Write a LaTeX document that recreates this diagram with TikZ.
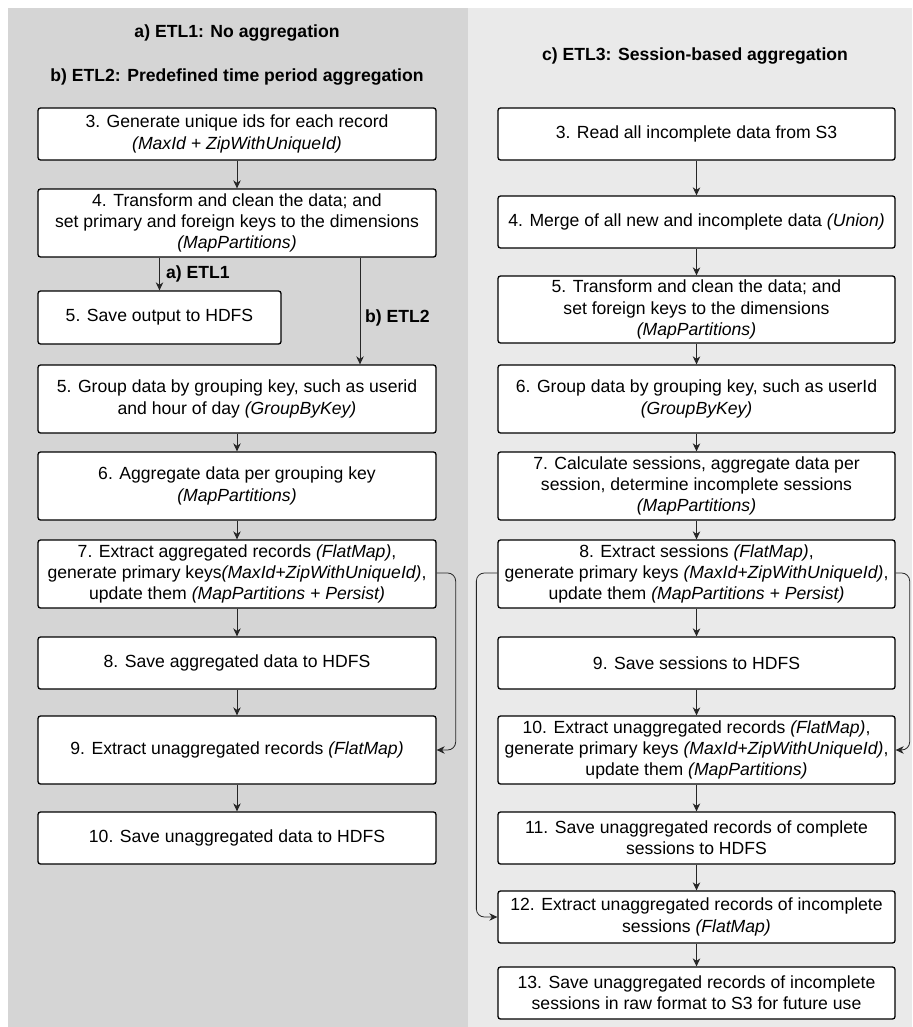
\documentclass[tikz,border=0pt]{standalone}
\usepackage{fontspec}
\setmainfont{Liberation Sans}
\usetikzlibrary{arrows.meta}
\definecolor{leftbg}{HTML}{D5D5D5}
\definecolor{rightbg}{HTML}{EAEAEA}
\begin{document}
\begin{tikzpicture}[x=1pt,y=-1pt,
  every node/.style={font=\fontsize{17.6}{21.2}\selectfont},
  stepbox/.style={draw=black, fill=white, line width=1.3pt, rounded corners=2.5pt,
    align=center, inner sep=0pt, minimum width=398, minimum height=52},
  rstepbox/.style={stepbox, minimum width=397},
  arr/.style={draw=black!85, line width=0.8pt, -{Stealth[length=8pt,width=7.5pt,inset=2.5pt]}},
  heading/.style={font=\fontsize{17.6}{21.2}\selectfont\bfseries},
  lbl/.style={font=\fontsize{17.6}{21.2}\selectfont\bfseries, anchor=west, inner sep=0pt}
]
\useasboundingbox (0,0) rectangle (912,1027);
\fill[leftbg] (8,8) rectangle (468,1027);
\fill[rightbg] (468,8) rectangle (912,1027);

% headings
\node[heading] (ha) at (237,33) {a) ETL1: No aggregation};
\node[heading] (hb) at (237,77) {b) ETL2: Predefined time period aggregation};
\node[heading] (hc) at (695,56) {c) ETL3: Session-based aggregation};

% left column
\node[stepbox] (l3) at (237,134) {3. Generate unique ids for each record\\ \textit{(MaxId + ZipWithUniqueId)}};
\node[stepbox, minimum height=68] (l4) at (237,223) {4. Transform and clean the data; and\\ set primary and foreign keys to the dimensions\\ \textit{(MapPartitions)}};
\node[stepbox, minimum width=243, minimum height=53] (l5a) at (159.5,317.5) {5. Save output to HDFS};
\node[stepbox, minimum height=68] (l5b) at (237,399) {5. Group data by grouping key, such as userid\\ and hour of day \textit{(GroupByKey)}};
\node[stepbox, minimum height=68] (l6) at (237,486) {6. Aggregate data per grouping key\\ \textit{(MapPartitions)}};
\node[stepbox, minimum height=68] (l7) at (237,574) {7. Extract aggregated records \textit{(FlatMap)},\\ generate primary keys\textit{(MaxId+ZipWithUniqueId)},\\ update them \textit{(MapPartitions + Persist)}};
\node[stepbox] (l8) at (237,663) {8. Save aggregated data to HDFS};
\node[stepbox, minimum height=68] (l9) at (237,750) {9. Extract unaggregated records \textit{(FlatMap)}};
\node[stepbox] (l10) at (237,838) {10. Save unaggregated data to HDFS};

% right column
\node[rstepbox] (r3) at (696.5,134) {3. Read all incomplete data from S3};
\node[rstepbox] (r4) at (696.5,222) {4. Merge of all new and incomplete data \textit{(Union)}};
\node[rstepbox, minimum height=67] (r5) at (696.5,309.5) {5. Transform and clean the data; and\\ set foreign keys to the dimensions\\ \textit{(MapPartitions)}};
\node[rstepbox, minimum height=68] (r6) at (696.5,399) {6. Group data by grouping key, such as userId\\ \textit{(GroupByKey)}};
\node[rstepbox, minimum height=68] (r7) at (696.5,486) {7. Calculate sessions, aggregate data per\\ session, determine incomplete sessions\\ \textit{(MapPartitions)}};
\node[rstepbox, minimum height=68] (r8) at (696.5,574) {8. Extract sessions \textit{(FlatMap)},\\ generate primary keys \textit{(MaxId+ZipWithUniqueId)},\\ update them \textit{(MapPartitions + Persist)}};
\node[rstepbox] (r9) at (696.5,663) {9. Save sessions to HDFS};
\node[rstepbox, minimum height=68] (r10) at (696.5,750) {10. Extract unaggregated records \textit{(FlatMap)},\\ generate primary keys \textit{(MaxId+ZipWithUniqueId)},\\ update them \textit{(MapPartitions)}};
\node[rstepbox] (r11) at (696.5,838) {11. Save unaggregated records of complete\\ sessions to HDFS};
\node[rstepbox] (r12) at (696.5,917) {12. Extract unaggregated records of incomplete\\ sessions \textit{(FlatMap)}};
\node[rstepbox] (r13) at (696.5,993) {13. Save unaggregated records of incomplete\\ sessions in raw format to S3 for future use};

% left connectors
\draw[arr] (l3) -- (l4);
\draw[arr] (l4.south -| l5a.north) -- (l5a.north);
\draw[arr] ([xshift=123]l4.south) -- ([xshift=123]l5b.north);
\node[lbl] (la) at (166,274) {a) ETL1};
\node[lbl] (lb) at (365,318) {b) ETL2};
\draw[arr] (l5b) -- (l6);
\draw[arr] (l6) -- (l7);
\draw[arr] (l7) -- (l8);
\draw[arr] (l8) -- (l9);
\draw[arr] (l9) -- (l10);
\draw[arr, rounded corners=8pt] ([yshift=1]l7.east) -- ++(19,0) |- (l9.east);

% right connectors
\draw[arr] (r3) -- (r4);
\draw[arr] (r4) -- (r5);
\draw[arr] (r5) -- (r6);
\draw[arr] (r6) -- (r7);
\draw[arr] (r7) -- (r8);
\draw[arr] (r8) -- (r9);
\draw[arr] (r9) -- (r10);
\draw[arr] (r10) -- (r11);
\draw[arr] (r11) -- (r12);
\draw[arr] (r12) -- (r13);
\draw[arr, rounded corners=8pt] ([yshift=1]r8.west) -- ++(-21,0) |- (r12.west);
\draw[arr, rounded corners=8pt] ([yshift=1]r8.east) -- ++(14,0) |- (r10.east);
\end{tikzpicture}
\end{document}
